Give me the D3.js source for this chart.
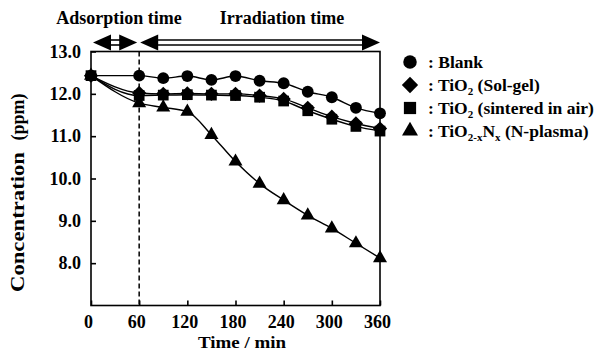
<!DOCTYPE html>
<html><head><meta charset="utf-8">
<script src="https://cdn.jsdelivr.net/npm/d3@7"></script>
<style>
html,body{margin:0;padding:0;background:#fff;}
svg text{font-family:"Liberation Serif","DejaVu Serif",serif !important;font-weight:bold;}
</style></head>
<body><svg id="c" width="609" height="351"></svg>
<script>
const times = [0, 60, 90, 120, 150, 180, 210, 240, 270, 300, 330, 360];
const blank = [12.43, 12.43, 12.37, 12.42, 12.33, 12.42, 12.31, 12.25, 12.05, 11.92, 11.67, 11.54];
const solgel = [12.43, 12.02, 12.0, 12.01, 12.0, 12.0, 11.96, 11.88, 11.67, 11.46, 11.30, 11.18];
const sintered = [12.43, 11.96, 11.97, 11.98, 11.97, 11.96, 11.92, 11.83, 11.60, 11.40, 11.23, 11.12];
const nplasma = [12.43, 11.78, 11.68, 11.58, 11.03, 10.40, 9.88, 9.49, 9.13, 8.82, 8.47, 8.12];
const xTicks = [0, 60, 120, 180, 240, 300, 360];
const yTicks = [8.0, 9.0, 10.0, 11.0, 12.0, 13.0];
const periods = [{label: "Adsorption time", from: 0, to: 60}, {label: "Irradiation time", from: 60, to: 360}];

const svg = d3.select("#c");
const x = d3.scaleLinear().domain([0, 360]).range([91, 380]);
const y = d3.scaleLinear().domain([7, 13]).range([305.5, 51.5]);
const FF = "Liberation Serif, DejaVu Serif, serif";

svg.append("rect").attr("x", x(0)).attr("y", y(13)).attr("width", x(360) - x(0)).attr("height", y(7) - y(13))
  .attr("fill", "none").attr("stroke", "#000").attr("stroke-width", 1.6);

const yAxis = d3.axisLeft(y).tickValues(yTicks).tickSizeInner(-5).tickSizeOuter(0).tickFormat(d3.format(".1f")).tickPadding(10);
const gy = svg.append("g").attr("transform", `translate(${x(0)},0)`).call(yAxis).attr("font-family", FF);
gy.select(".domain").remove();
gy.selectAll("line").attr("stroke-width", 1.6);
gy.selectAll("text").attr("font-size", 18).attr("fill", "#000");

const xAxis = d3.axisBottom(x).tickValues(xTicks).tickSizeInner(-5).tickSizeOuter(0).tickFormat(d3.format("d")).tickPadding(10);
const gx = svg.append("g").attr("transform", `translate(0,${y(7)})`).call(xAxis).attr("font-family", FF);
gx.select(".domain").remove();
gx.selectAll("line").attr("stroke-width", 1.6);
gx.selectAll("text").attr("font-size", 18).attr("fill", "#000").attr("dx", -3);

svg.append("text").attr("x", 242).attr("y", 348).attr("text-anchor", "middle").attr("font-size", 16)
  .attr("textLength", 88).attr("lengthAdjust", "spacingAndGlyphs").text("Time / min");
svg.append("text").attr("transform", "translate(24,222) rotate(-90)").attr("text-anchor", "middle").attr("font-size", 18)
  .attr("textLength", 140).attr("lengthAdjust", "spacingAndGlyphs").text("Concentration");
svg.append("text").attr("transform", "translate(24,117) rotate(-90)").attr("text-anchor", "middle").attr("font-size", 18).text("(ppm)");

svg.append("line").attr("x1", x(60)).attr("x2", x(60)).attr("y1", y(13)).attr("y2", y(7))
  .attr("stroke", "#000").attr("stroke-width", 1.5).attr("stroke-dasharray", "5,3");

const ay = 42.5, hl = 18, hh = 8;
periods.forEach((p, i) => {
  const x1 = x(p.from) + (i === 0 ? 2 : 1), x2 = x(p.to) - (i === 0 ? 2 : 0);
  [ay - 2.5, ay + 2.5].forEach(yy => {
    svg.append("line").attr("x1", x1 + hl - 2).attr("x2", x2 - hl + 2).attr("y1", yy).attr("y2", yy)
      .attr("stroke", "#000").attr("stroke-width", 1.6);
  });
  svg.append("path").attr("d", `M${x1},${ay}L${x1 + hl},${ay - hh}L${x1 + hl},${ay + hh}Z`).attr("fill", "#000");
  svg.append("path").attr("d", `M${x2},${ay}L${x2 - hl},${ay - hh}L${x2 - hl},${ay + hh}Z`).attr("fill", "#000");
});
svg.append("text").attr("x", 119).attr("y", 24).attr("text-anchor", "middle").attr("font-size", 18).text(periods[0].label);
svg.append("text").attr("x", 282).attr("y", 24).attr("text-anchor", "middle").attr("font-size", 18).text(periods[1].label);

const series = [
  {vals: blank, sym: d3.symbolCircle, size: 110},
  {vals: solgel, sym: d3.symbolDiamond2, size: 130},
  {vals: sintered, sym: d3.symbolSquare, size: 115},
  {vals: nplasma, sym: d3.symbolTriangle, size: 85}
];
const line = d3.line().x((d, i) => x(times[i])).y(d => y(d)).curve(d3.curveMonotoneX);
series.forEach(s => {
  svg.append("path").attr("d", line(s.vals)).attr("fill", "none").attr("stroke", "#000").attr("stroke-width", 1.4);
});
series.forEach(s => {
  svg.selectAll(null).data(s.vals).enter().append("path")
    .attr("d", d3.symbol().type(s.sym).size(s.size))
    .attr("transform", (d, i) => `translate(${x(times[i])},${y(d)})`)
    .attr("fill", "#000");
});

const legendY = [62, 85, 108, 131];
const lx = 410;
series.forEach((s, i) => {
  svg.append("path").attr("d", d3.symbol().type(s.sym).size(s.size * 1.3)).attr("transform", `translate(${lx},${legendY[i]})`).attr("fill", "#000");
});
const lt = (i) => svg.append("text").attr("x", 428).attr("y", legendY[i] + 5.5).attr("font-size", 17.5);
lt(0).text(": Blank");
let t = lt(1); t.append("tspan").text(": TiO"); t.append("tspan").attr("font-size", 11).attr("dy", 4).text("2"); t.append("tspan").attr("dy", -4).text(" (Sol-gel)");
t = lt(2); t.append("tspan").text(": TiO"); t.append("tspan").attr("font-size", 11).attr("dy", 4).text("2"); t.append("tspan").attr("dy", -4).text(" (sintered in air)");
t = lt(3); t.append("tspan").text(": TiO"); t.append("tspan").attr("font-size", 11).attr("dy", 4).text("2-x"); t.append("tspan").attr("dy", -4).text("N");
t.append("tspan").attr("font-size", 11).attr("dy", 4).text("x"); t.append("tspan").attr("dy", -4).text(" (N-plasma)");
</script></body></html>
